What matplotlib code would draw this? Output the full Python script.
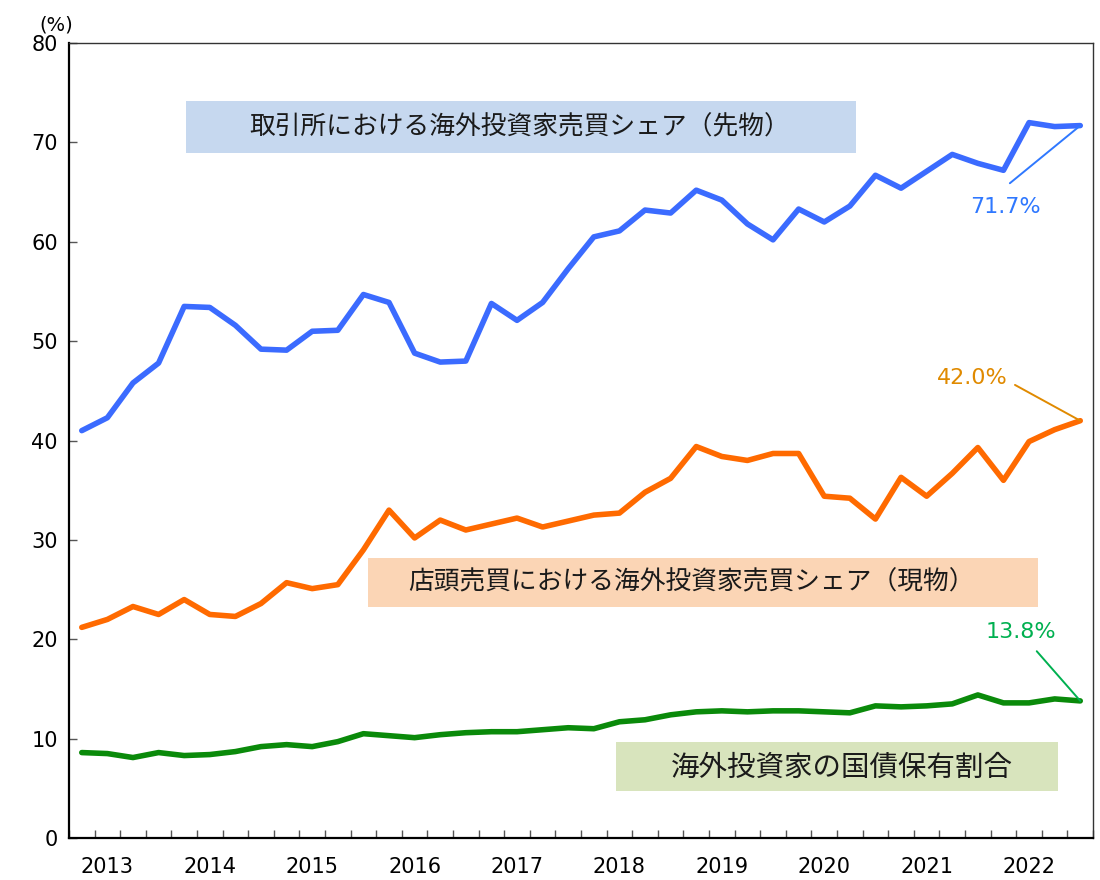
import matplotlib
matplotlib.use("Agg")
import matplotlib.pyplot as plt
from matplotlib.patches import Rectangle
import numpy as np

plt.rcParams["font.family"] = ["DejaVu Sans", "Noto Sans CJK JP"]

# quarterly, 2012Q4 .. 2022Q3
years = ["2013", "2014", "2015", "2016", "2017", "2018", "2019", "2020", "2021", "2022"]

futures = [41.0, 42.3, 45.8, 47.8, 53.5, 53.4, 51.6, 49.2, 49.1, 51.0,
           51.1, 54.7, 53.9, 48.8, 47.9, 48.0, 53.8, 52.1, 53.9, 57.3,
           60.5, 61.1, 63.2, 62.9, 65.2, 64.2, 61.8, 60.2, 63.3, 62.0,
           63.6, 66.7, 65.4, 67.1, 68.8, 67.9, 67.2, 72.0, 71.6, 71.7]

spot = [21.2, 22.0, 23.3, 22.5, 24.0, 22.5, 22.3, 23.6, 25.7, 25.1,
        25.5, 29.0, 33.0, 30.2, 32.0, 31.0, 31.6, 32.2, 31.3, 31.9,
        32.5, 32.7, 34.8, 36.2, 39.4, 38.4, 38.0, 38.7, 38.7, 34.4,
        34.2, 32.1, 36.3, 34.4, 36.7, 39.3, 36.0, 39.9, 41.1, 42.0]

jgb = [8.6, 8.5, 8.1, 8.6, 8.3, 8.4, 8.7, 9.2, 9.4, 9.2,
       9.7, 10.5, 10.3, 10.1, 10.4, 10.6, 10.7, 10.7, 10.9, 11.1,
       11.0, 11.7, 11.9, 12.4, 12.7, 12.8, 12.7, 12.8, 12.8, 12.7,
       12.6, 13.3, 13.2, 13.3, 13.5, 14.4, 13.6, 13.6, 14.0, 13.8]

labels = ["取引所における海外投資家売買シェア（先物）",
          "店頭売買における海外投資家売買シェア（現物）",
          "海外投資家の国債保有割合"]

n = len(futures)
x = np.arange(n)

fig = plt.figure(figsize=(11, 8.8), dpi=100)
ax = fig.add_axes([0.0627, 0.0477, 0.931, 0.9033])

kw = dict(lw=4.0, solid_joinstyle="round", solid_capstyle="round")
ax.plot(x, futures, color="#3b6bff", **kw)
ax.plot(x, spot, color="#ff6a00", **kw)
ax.plot(x, jgb, color="#0a8a0a", **kw)

ax.set_xlim(-0.5, n - 0.5)
ax.set_ylim(0, 80)
ax.set_yticks(np.arange(0, 81, 10))
ax.set_xticks(np.arange(-0.5, n, 1))
ax.set_xticklabels([])
ax.set_xticks(np.arange(1, n, 4), minor=True)
ax.set_xticklabels(years, minor=True)
ax.tick_params(axis="x", which="major", direction="in", length=6, width=1, color="#555555")
ax.tick_params(axis="x", which="minor", length=0, pad=14, labelsize=15)
ax.tick_params(axis="y", direction="in", length=6, width=1, color="#555555", labelsize=15, pad=8)

for side in ["top", "right"]:
    ax.spines[side].set_color("#333333")
    ax.spines[side].set_linewidth(1)
for side in ["left", "bottom"]:
    ax.spines[side].set_color("black")
    ax.spines[side].set_linewidth(1.6)

fig.text(0.036, 0.972, "(%)", fontsize=14, ha="left", va="center")

# series name boxes
jp = ["Noto Sans CJK JP", "DejaVu Sans"]
boxes = [  # (x0, x1, y0, y1, colour, text x, text y, size)
    (4.07, 30.24, 68.9, 74.2, "#c6d8ef", 17.1, 71.5, 18.5),
    (11.18, 37.35, 23.3, 28.2, "#fbd5b5", 23.8, 25.75, 18.5),
    (20.87, 38.13, 4.73, 9.66, "#d8e4bd", 29.7, 7.1, 20.5),
]
for (x0, x1, y0, y1, fc, tx, ty, fs), lab in zip(boxes, labels):
    ax.add_patch(Rectangle((x0, y0), x1 - x0, y1 - y0, fc=fc, ec="none", zorder=1))
    ax.text(tx, ty, lab, fontsize=fs, family=jp, ha="center", va="center",
            color="#1a1a1a", zorder=2)

# end value call-outs
callouts = [  # (series, colour, label pos, line start)
    (futures, "#2f78ff", (36.06, 63.5), (36.25, 65.9)),
    (spot, "#e08a00", (34.77, 46.3), (36.45, 45.6)),
    (jgb, "#00b050", (36.69, 20.7), (37.3, 18.8)),
]
for s, c, lp, ls in callouts:
    ax.text(lp[0], lp[1], f"{s[-1]:.1f}%", color=c, fontsize=16, ha="center", va="center")
    ax.annotate("", xy=(n - 1, s[-1]), xytext=ls,
                arrowprops=dict(arrowstyle="-", color=c, lw=1.4, shrinkA=0, shrinkB=0))

fig.savefig("out.png", dpi=100)
